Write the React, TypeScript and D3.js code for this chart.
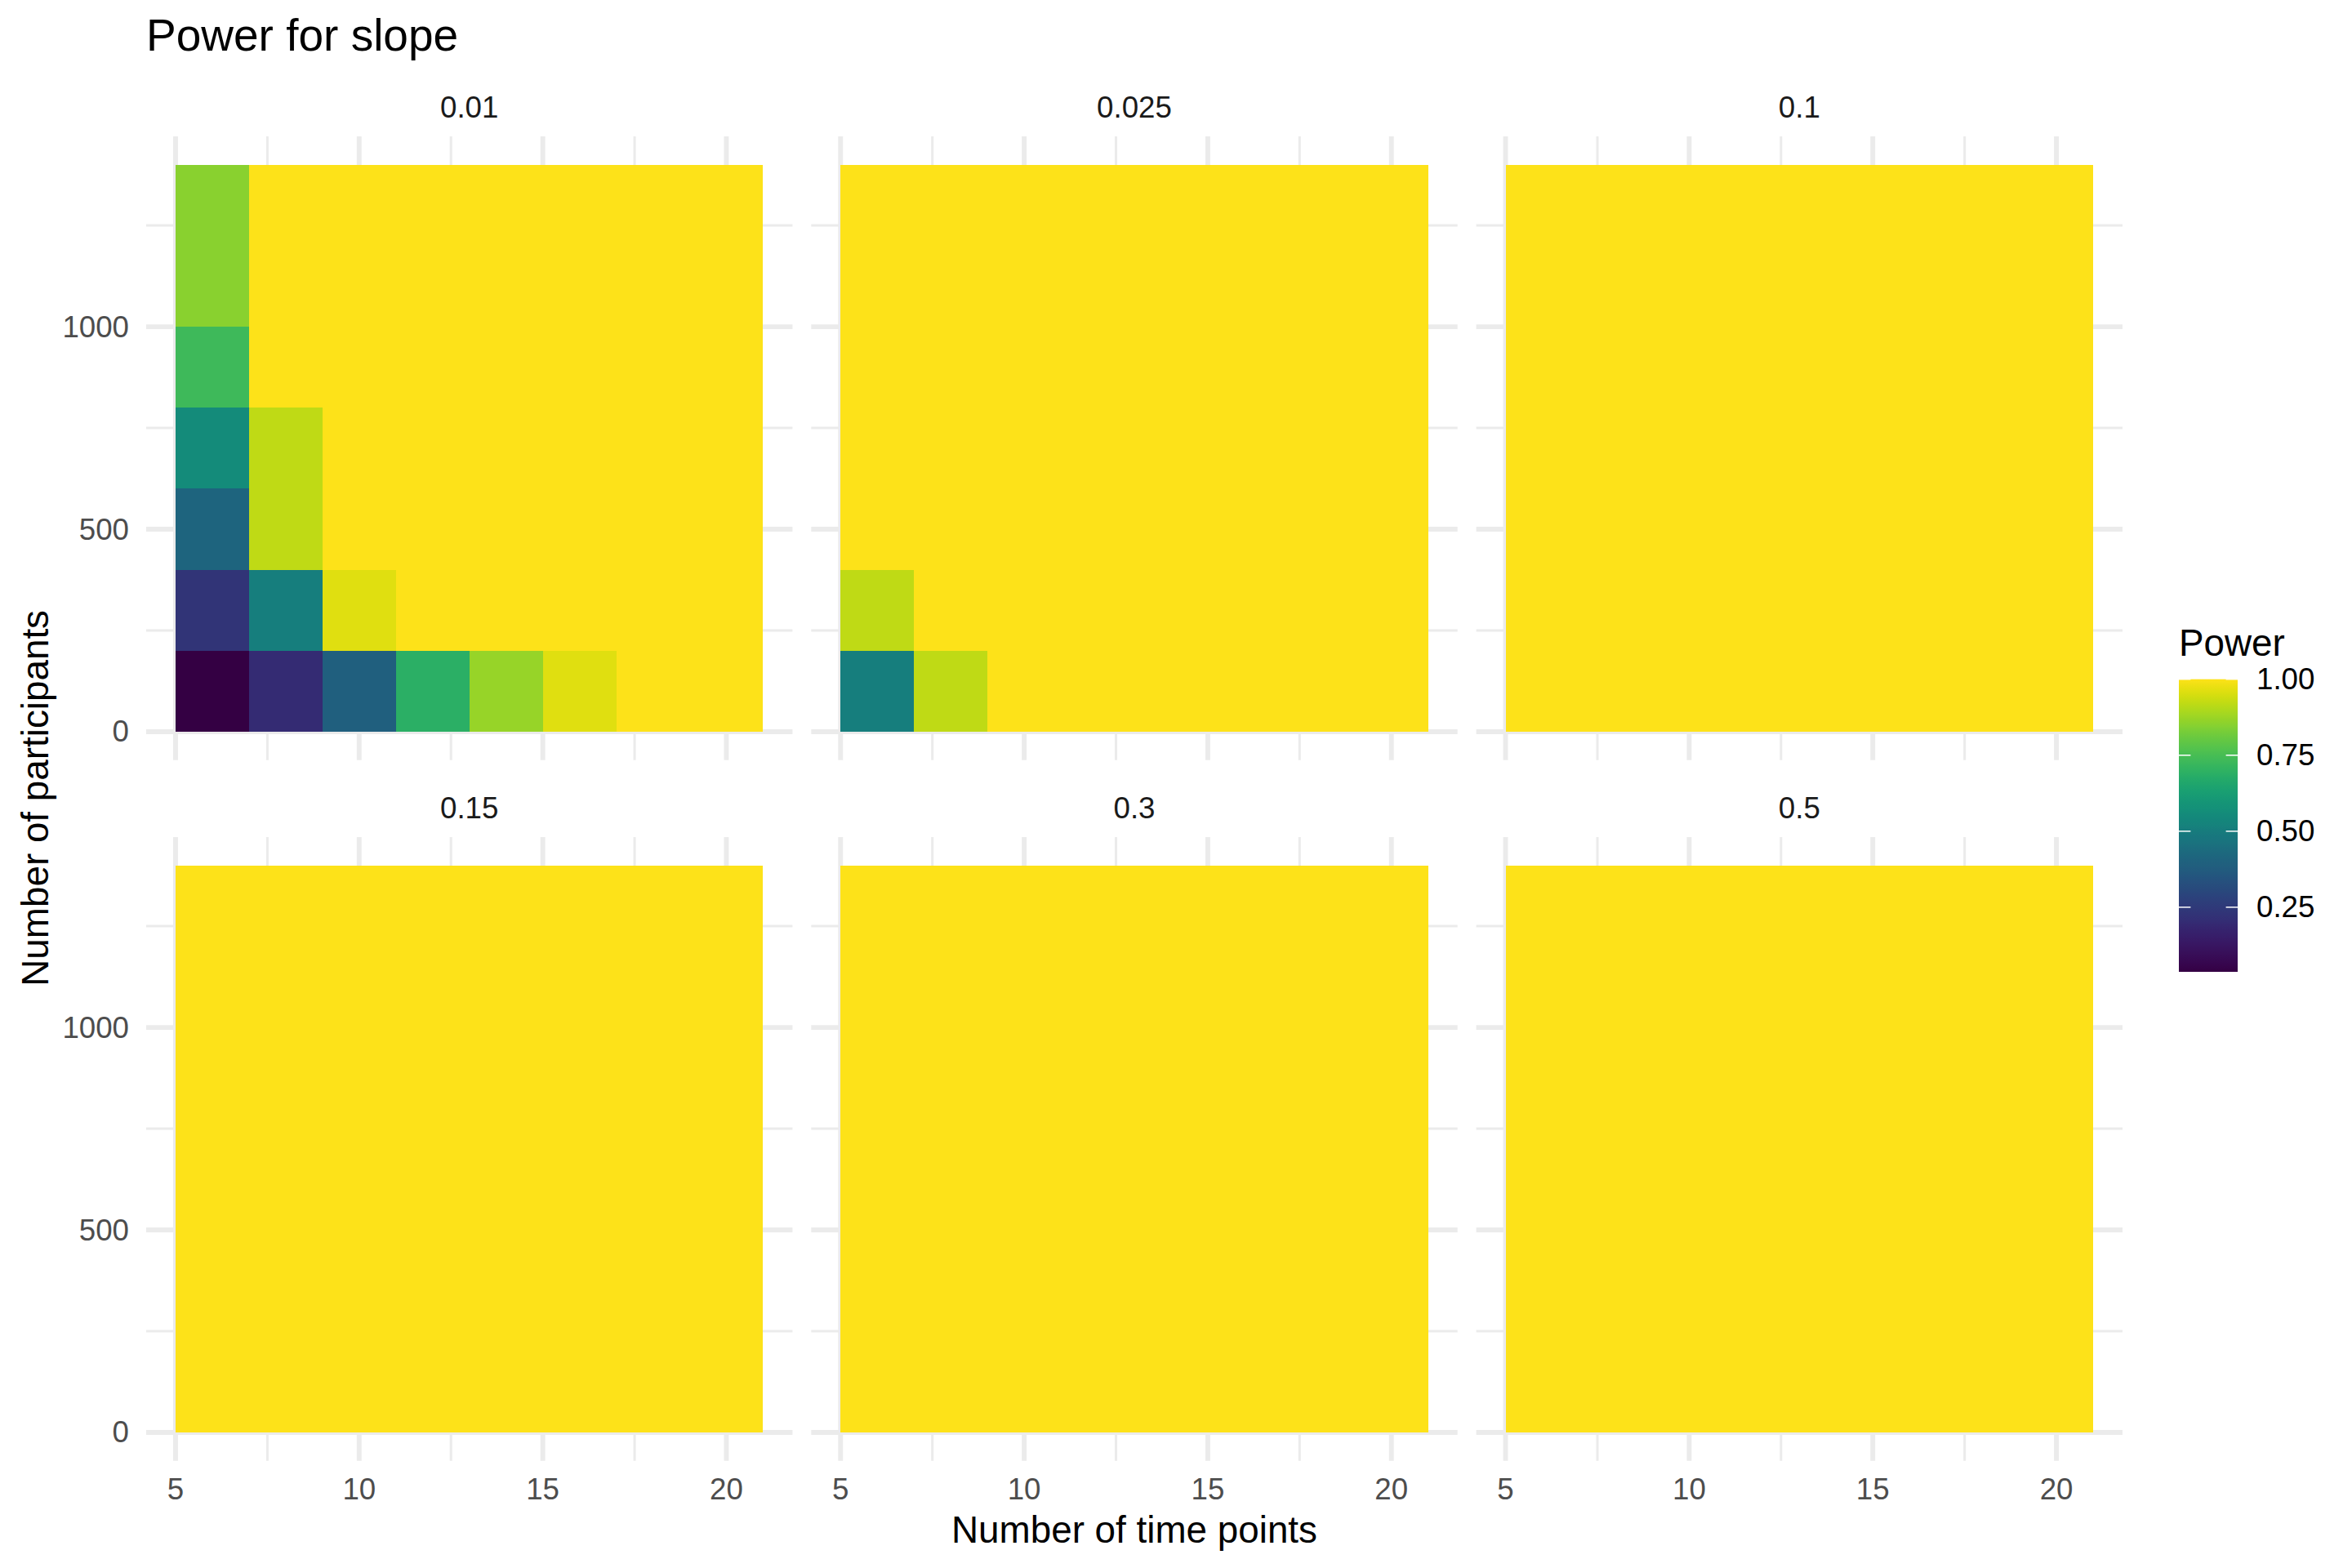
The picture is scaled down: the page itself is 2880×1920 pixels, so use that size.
import React from 'react';
import * as d3 from 'd3';

// ---------- data ----------
const effectSizes = ['0.01', '0.025', '0.1', '0.15', '0.3', '0.5'];
const timePoints = [6, 8, 10, 12, 14, 16, 18, 20];
const participants = [100, 300, 500, 700, 900, 1100, 1300];

// rows: participants (100 -> 1300), columns: time points (6 -> 20)
const power_001 = [
  [0.0375, 0.2, 0.39, 0.69, 0.87, 0.96, 1, 1],
  [0.23, 0.51, 0.96, 1, 1, 1, 1, 1],
  [0.41, 0.92, 1, 1, 1, 1, 1, 1],
  [0.56, 0.92, 1, 1, 1, 1, 1, 1],
  [0.73, 1, 1, 1, 1, 1, 1, 1],
  [0.85, 1, 1, 1, 1, 1, 1, 1],
  [0.85, 1, 1, 1, 1, 1, 1, 1],
];
const power_0025 = [
  [0.51, 0.92, 1, 1, 1, 1, 1, 1],
  [0.92, 1, 1, 1, 1, 1, 1, 1],
  [1, 1, 1, 1, 1, 1, 1, 1],
  [1, 1, 1, 1, 1, 1, 1, 1],
  [1, 1, 1, 1, 1, 1, 1, 1],
  [1, 1, 1, 1, 1, 1, 1, 1],
  [1, 1, 1, 1, 1, 1, 1, 1],
];
const power_01 = [
  [1, 1, 1, 1, 1, 1, 1, 1],
  [1, 1, 1, 1, 1, 1, 1, 1],
  [1, 1, 1, 1, 1, 1, 1, 1],
  [1, 1, 1, 1, 1, 1, 1, 1],
  [1, 1, 1, 1, 1, 1, 1, 1],
  [1, 1, 1, 1, 1, 1, 1, 1],
  [1, 1, 1, 1, 1, 1, 1, 1],
];
const power_015 = [
  [1, 1, 1, 1, 1, 1, 1, 1],
  [1, 1, 1, 1, 1, 1, 1, 1],
  [1, 1, 1, 1, 1, 1, 1, 1],
  [1, 1, 1, 1, 1, 1, 1, 1],
  [1, 1, 1, 1, 1, 1, 1, 1],
  [1, 1, 1, 1, 1, 1, 1, 1],
  [1, 1, 1, 1, 1, 1, 1, 1],
];
const power_03 = [
  [1, 1, 1, 1, 1, 1, 1, 1],
  [1, 1, 1, 1, 1, 1, 1, 1],
  [1, 1, 1, 1, 1, 1, 1, 1],
  [1, 1, 1, 1, 1, 1, 1, 1],
  [1, 1, 1, 1, 1, 1, 1, 1],
  [1, 1, 1, 1, 1, 1, 1, 1],
  [1, 1, 1, 1, 1, 1, 1, 1],
];
const power_05 = [
  [1, 1, 1, 1, 1, 1, 1, 1],
  [1, 1, 1, 1, 1, 1, 1, 1],
  [1, 1, 1, 1, 1, 1, 1, 1],
  [1, 1, 1, 1, 1, 1, 1, 1],
  [1, 1, 1, 1, 1, 1, 1, 1],
  [1, 1, 1, 1, 1, 1, 1, 1],
  [1, 1, 1, 1, 1, 1, 1, 1],
];
const powerByEffect = [power_001, power_0025, power_01, power_015, power_03, power_05];

const xMajor = [5, 10, 15, 20];
const xMinor = [7.5, 12.5, 17.5];
const yMajor = [0, 500, 1000];
const yMinor = [250, 750, 1250];
const legendTicks = [0.25, 0.5, 0.75, 1.0];

const title = 'Power for slope';
const xTitle = 'Number of time points';
const yTitle = 'Number of participants';
const legendTitle = 'Power';

// ---------- layout ----------
const W = 2880;
const H = 1920;
const FONT = "'Liberation Sans', Arial, Helvetica, sans-serif";
const plotLeft = 179;
const panelW = 791.4;
const gapX = 22.9;
const rowTops = [167, 1025];
const panelH = 763.7;
const tileW = 2;
const tileH = 200;

// viridis palette, with the slightly deeper tone rendition seen in the reference
const GAMMA = 1.2;
const viridisDeep = (t: number) => {
  const c = d3.rgb(d3.interpolateViridis(t));
  const f = (v: number) => 255 * Math.pow(v / 255, GAMMA);
  return d3.rgb(f(c.r), f(c.g), f(c.b)).formatHex();
};

const allVals = powerByEffect.flat(2);
const ext = d3.extent(allVals) as [number, number];
const color = d3.scaleSequential(viridisDeep).domain(ext);

const xDomain: [number, number] = [4.2, 21.8];
const yDomain: [number, number] = [-70, 1470];

const fmt2 = d3.format('.2f');

function Panel({ idx }: { idx: number }) {
  const col = idx % 3;
  const row = Math.floor(idx / 3);
  const left = plotLeft + col * (panelW + gapX);
  const top = rowTops[row];
  const x = d3.scaleLinear().domain(xDomain).range([left, left + panelW]);
  const y = d3.scaleLinear().domain(yDomain).range([top + panelH, top]);
  const data = powerByEffect[idx];
  const tiles: { t: number; p: number; v: number }[] = [];
  participants.forEach((p, ri) => {
    timePoints.forEach((t, ci) => {
      tiles.push({ t, p, v: data[ri][ci] });
    });
  });
  return (
    <g>
      {xMinor.map((v) => (
        <line key={'xm' + v} x1={x(v)} x2={x(v)} y1={top} y2={top + panelH} stroke="#EBEBEB" strokeWidth={3} />
      ))}
      {yMinor.map((v) => (
        <line key={'ym' + v} x1={left} x2={left + panelW} y1={y(v)} y2={y(v)} stroke="#EBEBEB" strokeWidth={3} />
      ))}
      {xMajor.map((v) => (
        <line key={'xM' + v} x1={x(v)} x2={x(v)} y1={top} y2={top + panelH} stroke="#EBEBEB" strokeWidth={5.9} />
      ))}
      {yMajor.map((v) => (
        <line key={'yM' + v} x1={left} x2={left + panelW} y1={y(v)} y2={y(v)} stroke="#EBEBEB" strokeWidth={5.9} />
      ))}
      <g shapeRendering="crispEdges">
        {tiles.map((d, i) => (
          <rect
            key={i}
            x={x(d.t - tileW / 2)}
            y={y(d.p + tileH / 2)}
            width={x(d.t + tileW / 2) - x(d.t - tileW / 2)}
            height={y(d.p - tileH / 2) - y(d.p + tileH / 2)}
            fill={color(d.v)}
          />
        ))}
      </g>
      <text
        x={left + panelW / 2}
        y={top - 36}
        textAnchor="middle"
        dominantBaseline="central"
        fontFamily={FONT}
        fontSize={36.7}
        fill="#1A1A1A"
      >
        {effectSizes[idx]}
      </text>
      {col === 0 &&
        yMajor.map((v) => (
          <text
            key={'yl' + v}
            x={left - 21}
            y={y(v)}
            textAnchor="end"
            dominantBaseline="central"
            fontFamily={FONT}
            fontSize={36.7}
            fill="#4D4D4D"
          >
            {v}
          </text>
        ))}
      {row === 1 &&
        xMajor.map((v) => (
          <text
            key={'xl' + v}
            x={x(v)}
            y={top + panelH + 35}
            textAnchor="middle"
            dominantBaseline="central"
            fontFamily={FONT}
            fontSize={36.7}
            fill="#4D4D4D"
          >
            {v}
          </text>
        ))}
    </g>
  );
}

function Legend() {
  const bx = 2668;
  const bw = 72;
  const byTop = 831.7;
  const byBot = 1190;
  const ly = d3.scaleLinear().domain(ext).range([byBot, byTop]);
  const stops = d3.range(0, 1.0001, 0.02);
  return (
    <g>
      <defs>
        <linearGradient id="powerGrad" x1="0" y1="1" x2="0" y2="0">
          {stops.map((s) => (
            <stop key={s} offset={s} stopColor={color(ext[0] + s * (ext[1] - ext[0]))} />
          ))}
        </linearGradient>
      </defs>
      <text x={bx} y={803} fontFamily={FONT} fontSize={45.8} fill="#000">
        {legendTitle}
      </text>
      <rect x={bx} y={byTop} width={bw} height={byBot - byTop} fill="url(#powerGrad)" />
      {legendTicks.map((t) => (
        <g key={t}>
          <line x1={bx} x2={bx + bw * 0.2} y1={ly(t)} y2={ly(t)} stroke="#fff" strokeWidth={1.5} />
          <line x1={bx + bw * 0.8} x2={bx + bw} y1={ly(t)} y2={ly(t)} stroke="#fff" strokeWidth={1.5} />
          <text x={2763} y={ly(t)} dominantBaseline="central" fontFamily={FONT} fontSize={36.7} fill="#000">
            {fmt2(t)}
          </text>
        </g>
      ))}
    </g>
  );
}

export default function App() {
  const panelsRight = plotLeft + 3 * panelW + 2 * gapX;
  return (
    <div style={{ position: 'absolute', left: 0, top: 0, width: W, height: H, background: '#fff' }}>
      <svg width={W} height={H} viewBox={`0 0 ${W} ${H}`} style={{ display: 'block' }}>
        <rect x={0} y={0} width={W} height={H} fill="#fff" />
        <text x={plotLeft} y={62} fontFamily={FONT} fontSize={55} fill="#000">
          {title}
        </text>
        {effectSizes.map((_, i) => (
          <Panel key={i} idx={i} />
        ))}
        <text
          x={(plotLeft + panelsRight) / 2}
          y={1873}
          textAnchor="middle"
          dominantBaseline="central"
          fontFamily={FONT}
          fontSize={45.8}
          fill="#000"
        >
          {xTitle}
        </text>
        <text
          transform={`translate(43, ${(rowTops[0] - 73 + rowTops[1] + panelH) / 2 + 36}) rotate(-90)`}
          textAnchor="middle"
          dominantBaseline="central"
          fontFamily={FONT}
          fontSize={45.8}
          fill="#000"
        >
          {yTitle}
        </text>
        <Legend />
      </svg>
    </div>
  );
}
